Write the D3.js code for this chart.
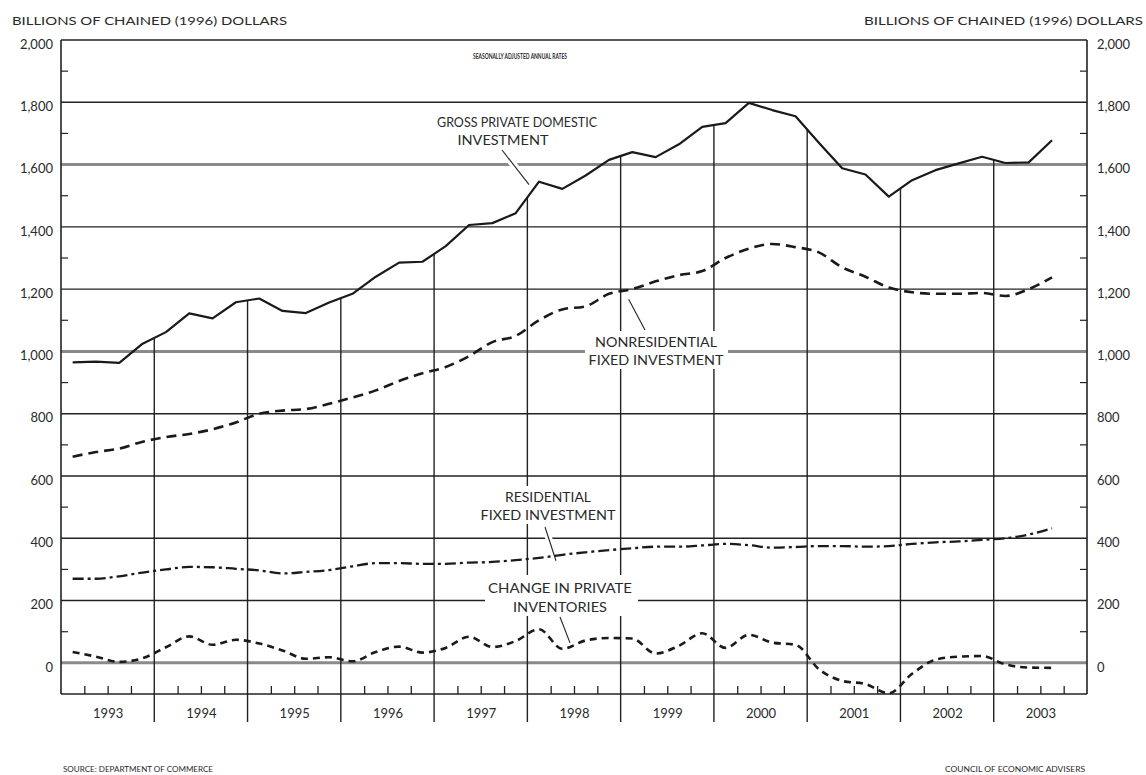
<!DOCTYPE html>
<html>
<head>
<meta charset="utf-8">
<script src="https://cdn.jsdelivr.net/npm/d3@7"></script>
<style>
  html, body { margin: 0; padding: 0; background: #fff; }
  svg { display: block; }
  text { font-family: Lato, "Open Sans", "DejaVu Sans", sans-serif; fill: #2a2a2a; }
</style>
</head>
<body>
<svg id="chart" width="1146" height="775"></svg>
<script>
// ---- data (quarterly, 1993Q1 .. 2003Q3), billions of chained 1996 dollars ----
const years = [1993, 1994, 1995, 1996, 1997, 1998, 1999, 2000, 2001, 2002, 2003];
const gpdi = [965, 967, 963, 1025, 1062, 1122, 1106, 1158, 1170, 1130, 1123, 1157,
  1185, 1240, 1285, 1288, 1338, 1406, 1412, 1444, 1545, 1522, 1565, 1615,
  1640, 1624, 1665, 1721, 1733, 1798, 1775, 1755, 1670, 1588, 1568, 1497,
  1550, 1582, 1604, 1625, 1605, 1607, 1678];
const nonres = [662, 677, 688, 710, 725, 735, 750, 772, 800, 810, 815, 832,
  852, 875, 905, 930, 950, 985, 1030, 1050, 1100, 1135, 1145, 1185,
  1200, 1225, 1245, 1258, 1300, 1330, 1345, 1335, 1318, 1270, 1240, 1205,
  1190, 1185, 1185, 1188, 1178, 1200, 1238];
const resid = [270, 270, 278, 290, 300, 308, 307, 302, 297, 287, 292, 298,
  310, 320, 320, 318, 318, 322, 324, 330, 337, 347, 355, 362,
  368, 373, 373, 377, 382, 378, 370, 372, 375, 375, 373, 375,
  382, 387, 390, 395, 400, 412, 432];
const inventories = [35, 20, 3, 15, 50, 85, 58, 74, 62, 40, 13, 18,
  5, 35, 52, 33, 48, 84, 51, 70, 108, 45, 72, 80,
  78, 30, 55, 95, 48, 90, 65, 58, -20, -58, -68, -98,
  -35, 10, 20, 22, -5, -15, -16];
const yTicks = [0, 200, 400, 600, 800, 1000, 1200, 1400, 1600, 1800, 2000];
const yMinor = [100, 300, 500, 700, 900, 1100, 1300, 1500, 1700, 1900];
const heavyGrid = [0, 1000, 1600];

// ---- scales ----
const svg = d3.select("#chart");
const x = d3.scaleLinear().domain([1993, 2004]).range([61, 1087]);
const y = d3.scaleLinear().domain([-100, 2000]).range([694, 40]);
const qx = i => x(1993 + (i + 0.5) / 4);
const ink = "#222";

// ---- horizontal grid ----
svg.append("g").selectAll("line").data(yTicks).join("line")
  .attr("x1", x(1993)).attr("x2", x(2004))
  .attr("y1", d => y(d)).attr("y2", d => y(d))
  .attr("stroke", d => heavyGrid.includes(d) ? "#8a8a8a" : ink)
  .attr("stroke-width", d => heavyGrid.includes(d) ? 3 : 1.4);

// minor ticks on both y axes
svg.append("g").selectAll("line").data(yMinor).join("line")
  .attr("x1", x(1993)).attr("x2", x(1993) + 7)
  .attr("y1", d => y(d)).attr("y2", d => y(d)).attr("stroke", ink).attr("stroke-width", 1.2);
svg.append("g").selectAll("line").data(yMinor).join("line")
  .attr("x1", x(2004) - 7).attr("x2", x(2004))
  .attr("y1", d => y(d)).attr("y2", d => y(d)).attr("stroke", ink).attr("stroke-width", 1.2);

// ---- year dividers: from below the axis up to the GPDI line ----
const dividers = years.slice(1).map(yr => {
  const k = (yr - 1993) * 4;
  return { yr, v: (gpdi[k - 1] + gpdi[k]) / 2 };
});
svg.append("g").selectAll("line").data(dividers).join("line")
  .attr("x1", d => x(d.yr)).attr("x2", d => x(d.yr))
  .attr("y1", y(-100) + 28).attr("y2", d => y(d.v))
  .attr("stroke", ink).attr("stroke-width", 1.4);

// ---- bottom axis: quarter ticks ----
const quarterTicks = [];
years.forEach(yr => [0.25, 0.5, 0.75].forEach(f => quarterTicks.push(yr + f)));
const xAxis = svg.append("g").attr("transform", `translate(0,${y(-100)})`)
  .call(d3.axisBottom(x).tickValues(quarterTicks).tickSize(-8).tickFormat(""));
xAxis.select(".domain").remove();
xAxis.selectAll("line").attr("stroke", ink).attr("stroke-width", 1.3);

// year labels
const yearAxis = svg.append("g").attr("transform", `translate(0,${y(-100)})`)
  .call(d3.axisBottom(x).tickValues(years.map(d => d + 0.5)).tickSize(0).tickFormat(d => Math.floor(d)));
yearAxis.select(".domain").remove();
yearAxis.selectAll("text").attr("y", 19).attr("dy", "0.36em")
  .style("font-size", "13px").attr("fill", "#2a2a2a");

// frame
svg.append("line").attr("x1", x(1993)).attr("x2", x(2004)).attr("y1", y(-100)).attr("y2", y(-100))
  .attr("stroke", ink).attr("stroke-width", 1.6);
svg.append("line").attr("x1", x(1993)).attr("x2", x(1993)).attr("y1", y(-100)).attr("y2", y(2000))
  .attr("stroke", ink).attr("stroke-width", 1.6);
svg.append("line").attr("x1", x(2004)).attr("x2", x(2004)).attr("y1", y(-100)).attr("y2", y(2000))
  .attr("stroke", ink).attr("stroke-width", 1.6);

// y tick labels both sides
const fmt = d3.format(",");
const lAxis = svg.append("g").attr("transform", `translate(${x(1993)},0)`)
  .call(d3.axisLeft(y).tickValues(yTicks).tickSize(0).tickPadding(8).tickFormat(fmt));
const rAxis = svg.append("g").attr("transform", `translate(${x(2004)},0)`)
  .call(d3.axisRight(y).tickValues(yTicks).tickSize(0).tickPadding(10).tickFormat(fmt));
[lAxis, rAxis].forEach(a => {
  a.select(".domain").remove();
  a.selectAll("text").attr("y", 4).style("font-size", "13px").attr("fill", "#2a2a2a");
});

// ---- label boxes (mask grid behind annotation text) ----
const boxes = [
  [433, 110, 168, 40],
  [585, 331, 143, 38],
  [478, 486, 140, 38],
  [485, 575, 153, 41]
];
svg.append("g").selectAll("rect").data(boxes).join("rect")
  .attr("x", d => d[0]).attr("y", d => d[1]).attr("width", d => d[2]).attr("height", d => d[3])
  .attr("fill", "#fff");

// leaders (text end in pixels, data end anchored to the series)
const leaders = [
  { x1: 502, y1: 150, x2: qx(20) - 10, y2: y(gpdi[20]) + 3 },
  { x1: 645, y1: 330, x2: x(1999) + 8, y2: y(1193) + 8 },
  { x1: 545, y1: 527, x2: 556, y2: y(resid[21]) + 6 },
  { x1: 560, y1: 617, x2: 570, y2: y(inventories[21]) - 6 }
];
svg.append("g").selectAll("line").data(leaders).join("line")
  .attr("x1", d => d.x1).attr("y1", d => d.y1).attr("x2", d => d.x2).attr("y2", d => d.y2)
  .attr("stroke", "#fff").attr("stroke-width", 7);
svg.append("g").selectAll("line").data(leaders).join("line")
  .attr("x1", d => d.x1).attr("y1", d => d.y1).attr("x2", d => d.x2).attr("y2", d => d.y2)
  .attr("stroke", ink).attr("stroke-width", 1.1);

// ---- series ----
const series = [
  { values: gpdi, dash: null, width: 2.2, curve: d3.curveLinear },
  { values: nonres, dash: "10,6", width: 2.6, curve: d3.curveMonotoneX },
  { values: resid, dash: "11,4,3,4", width: 2.3, curve: d3.curveMonotoneX },
  { values: inventories, dash: "7,5", width: 2.6, curve: d3.curveMonotoneX }
];
series.forEach(s => {
  const line = d3.line().x((d, i) => qx(i)).y(d => y(d)).curve(s.curve);
  svg.append("path").datum(s.values)
    .attr("d", line).attr("fill", "none").attr("stroke", "#1a1a1a")
    .attr("stroke-width", s.width)
    .attr("stroke-dasharray", s.dash)
    .attr("stroke-linejoin", "round");
});

// ---- texts ----
const texts = [
  { t: "BILLIONS OF CHAINED (1996) DOLLARS", x: 12, y: 25, a: "start", s: 12, w: 275 },
  { t: "BILLIONS OF CHAINED (1996) DOLLARS", x: 1143, y: 25, a: "end", s: 12, w: 279 },
  { t: "SEASONALLY ADJUSTED ANNUAL RATES", x: 520, y: 59, a: "middle", s: 6.5, w: 94, b: true },
  { t: "SOURCE: DEPARTMENT OF COMMERCE", x: 63, y: 772, a: "start", s: 8, w: 150 },
  { t: "COUNCIL OF ECONOMIC ADVISERS", x: 1085, y: 772, a: "end", s: 8, w: 140 },
  { t: "GROSS PRIVATE DOMESTIC", x: 517, y: 127, a: "middle", s: 13, w: 160 },
  { t: "INVESTMENT", x: 503, y: 145, a: "middle", s: 13, w: 91 },
  { t: "NONRESIDENTIAL", x: 656, y: 347, a: "middle", s: 13, w: 122 },
  { t: "FIXED INVESTMENT", x: 656, y: 365, a: "middle", s: 13, w: 135 },
  { t: "RESIDENTIAL", x: 548, y: 502, a: "middle", s: 13, w: 86 },
  { t: "FIXED INVESTMENT", x: 548, y: 520, a: "middle", s: 13, w: 135 },
  { t: "CHANGE IN PRIVATE", x: 560, y: 593, a: "middle", s: 13, w: 144 },
  { t: "INVENTORIES", x: 560, y: 612, a: "middle", s: 13, w: 94 }
];
svg.append("g").selectAll("text").data(texts).join("text")
  .attr("x", d => d.x).attr("y", d => d.y)
  .attr("text-anchor", d => d.a)
  .style("font-size", d => d.s + "px")
  .style("font-weight", d => d.b ? "bold" : "normal")
  .attr("textLength", d => d.w).attr("lengthAdjust", "spacingAndGlyphs")
  .text(d => d.t);
</script>
</body>
</html>
